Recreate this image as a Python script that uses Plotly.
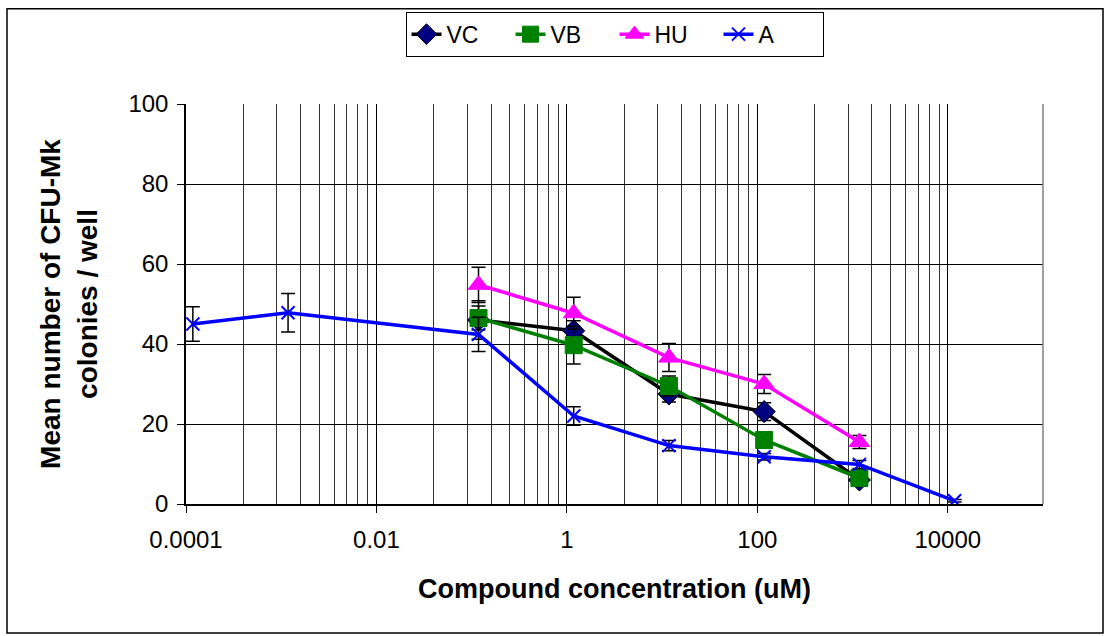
import plotly.graph_objects as go

# ---- data ----
x_main = [0.118, 1.18, 11.8, 118, 1180]
vc_y = [46.0, 43.3, 27.5, 23.1, 6.0]
vc_err = [4.8, 2.5, 2.0, 2.2, 1.0]
vb_y = [46.5, 39.7, 29.5, 16.0, 6.5]
vb_err = [3.0, 4.7, 2.5, 1.5, 1.0]
hu_y = [54.8, 47.7, 36.6, 30.0, 15.5]
hu_err = [4.4, 4.0, 3.5, 2.4, 1.6]
a_x = [0.000118, 0.00118, 0.118, 1.18, 11.8, 118, 1180, 11800]
a_y = [45.0, 47.8, 42.4, 22.0, 14.6, 11.8, 9.9, 0.8]
a_err = [4.3, 4.8, 4.3, 2.3, 1.3, 0.8, 1.0, 0.3]

x_tickvals = [1e-4, 1e-2, 1, 100, 1e4]
x_ticktext = ["0.0001", "0.01", "1", "100", "10000"]
minor_bases = [1e-4, 1e-2, 1, 100]
minor_vals = [b * k * k for b in minor_bases for k in range(2, 10)]

FONT = "Liberation Sans, Arial, sans-serif"

def err(vals):
    return dict(type="data", array=vals, visible=True, color="black",
                thickness=1.5, width=7)

fig = go.Figure()
fig.add_trace(go.Scatter(
    x=x_main, y=vc_y, name="VC", mode="lines+markers",
    line=dict(color="black", width=3.5),
    marker=dict(symbol="diamond", size=17, color="#000080",
                line=dict(color="black", width=1)),
    error_y=err(vc_err)))
fig.add_trace(go.Scatter(
    x=x_main, y=vb_y, name="VB", mode="lines+markers",
    line=dict(color="#008000", width=3.5),
    marker=dict(symbol="square", size=17, color="#008000",
                line=dict(color="#008000", width=1)),
    error_y=err(vb_err)))
fig.add_trace(go.Scatter(
    x=x_main, y=hu_y, name="HU", mode="lines+markers",
    line=dict(color="#FF00FF", width=3.5),
    marker=dict(symbol="triangle-up", size=18, color="#FF00FF",
                line=dict(color="#FF00FF", width=1)),
    error_y=err(hu_err)))
fig.add_trace(go.Scatter(
    x=a_x, y=a_y, name="A", mode="lines+markers",
    line=dict(color="#0000FF", width=3.5),
    marker=dict(symbol="x-thin", size=13, color="#0000FF",
                line=dict(color="#0000FF", width=2)),
    error_y=err(a_err)))

W, H = 1105, 636
L, R, T, B = 186, 1043, 101, 504
pw, ph = R - L, B - T

def px2x(px):
    return (px - L) / pw

def px2y(py):
    return (B - py) / ph

fig.update_layout(
    width=W, height=H,
    margin=dict(l=L, r=W - R, t=T, b=H - B),
    paper_bgcolor="white", plot_bgcolor="white",
    font=dict(family=FONT, size=24, color="black"),
    showlegend=True,
    legend=dict(orientation="h", x=0.5, xanchor="center",
                y=px2y(8), yanchor="top",
                bordercolor="black", borderwidth=1,
                font=dict(size=23), entrywidth=59,
                traceorder="normal"),
    xaxis=dict(type="log", range=[-4, 5],
               tickmode="array", tickvals=x_tickvals, ticktext=x_ticktext,
               ticks="outside", ticklen=7, tickcolor="black",
               ticklabelstandoff=6,
               showgrid=True, gridcolor="black", gridwidth=1,
               showline=True, linecolor="black", linewidth=1.5,
               minor=dict(tickmode="array", tickvals=minor_vals,
                          showgrid=True, gridcolor="#333333", gridwidth=1,
                          ticks=""),
               title=dict(text="<b>Compound concentration (uM)</b>",
                          font=dict(size=27), standoff=28),
               zeroline=False),
    yaxis=dict(range=[0, 100], tickmode="linear", tick0=0, dtick=20,
               ticks="outside", ticklen=7, tickcolor="black",
               ticklabelstandoff=4,
               showgrid=True, gridcolor="black", gridwidth=1,
               showline=True, linecolor="black", linewidth=1.5,
               title=dict(text="<b>Mean number of CFU-Mk<br>colonies / well</b>",
                          font=dict(size=28), standoff=23),
               zeroline=False),
    shapes=[
        dict(type="rect", xref="paper", yref="paper",
             x0=px2x(7), x1=px2x(1103), y0=px2y(634), y1=px2y(5),
             line=dict(color="black", width=1.5), layer="below"),
        dict(type="line", xref="paper", yref="paper",
             x0=1, x1=1, y0=0, y1=1,
             line=dict(color="#808080", width=1.5)),
    ],
)

fig.write_html("out.html")
